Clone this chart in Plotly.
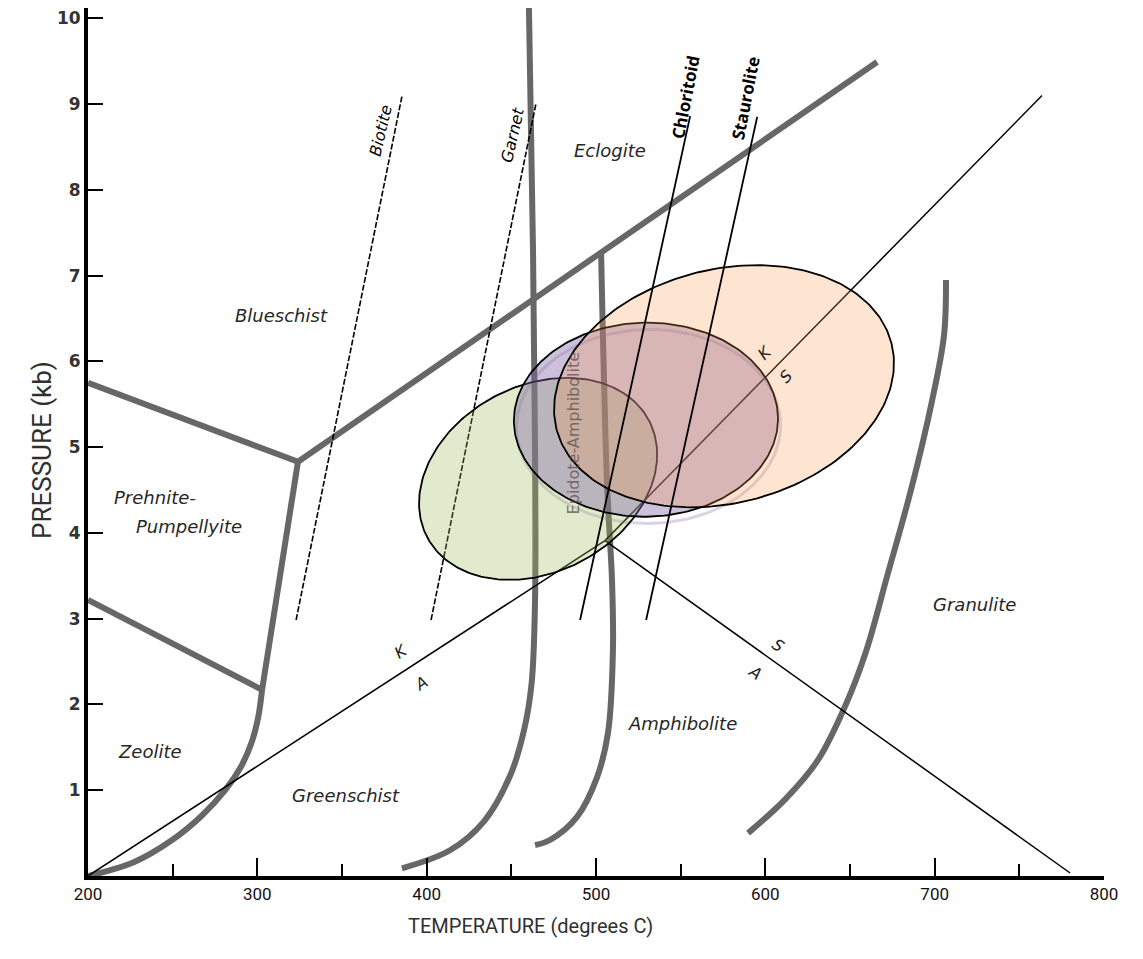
import numpy as np
import plotly.graph_objects as go

# ---------------------------------------------------------------
# Metamorphic facies diagram: temperature (degrees C) vs pressure (kb)
# ---------------------------------------------------------------

# Facies boundaries (thick grey lines): temperature / pressure pairs
eclogite_T = [324.0, 666.0]
eclogite_P = [4.83, 9.49]

blueschist_prehnite_T = [200.0, 324.0]
blueschist_prehnite_P = [5.75, 4.83]

prehnite_greenschist_T = [324.0, 302.8, 300.5, 296.5, 290.5, 281.0, 267.0, 249.0, 227.0, 200.0]
prehnite_greenschist_P = [4.83, 2.17, 1.85, 1.55, 1.28, 1.00, 0.70, 0.41, 0.16, 0.0]

zeolite_prehnite_T = [200.0, 302.8]
zeolite_prehnite_P = [3.22, 2.17]

greenschist_epidote_T = [460.4, 462.8, 464.0, 464.0, 462.0, 457.5, 449.5, 434.0, 413.8, 385.4]
greenschist_epidote_P = [10.12, 7.30, 4.97, 3.22, 2.25, 1.70, 1.18, 0.64, 0.30, 0.09]

epidote_amphibolite_T = [503.0, 506.5, 509.5, 510.0, 507.1, 500.6, 488.8, 472.8, 464.0]
epidote_amphibolite_P = [7.28, 4.58, 3.42, 2.63, 1.67, 1.15, 0.69, 0.42, 0.36]

granulite_T = [706.7, 705.5, 698.0, 686.0, 672.0, 659.5, 648.0, 631.0, 612.0, 589.8]
granulite_P = [6.95, 6.30, 5.50, 4.50, 3.50, 2.62, 2.02, 1.35, 0.90, 0.50]

# Al2SiO5 polymorph reactions (kyanite / andalusite / sillimanite)
triple_T, triple_P = 505.3, 3.91
ka_T = [200.0, triple_T]
ka_P = [0.0, triple_P]
ks_T = [triple_T, 763.4]
ks_P = [triple_P, 9.10]
as_T = [triple_T, 780.0]
as_P = [triple_P, 0.035]

# Isograds
biotite_T = [322.9, 385.5]
biotite_P = [2.985, 9.10]
garnet_T = [402.6, 464.6]
garnet_P = [2.985, 9.01]
chloritoid_T = [490.6, 555.6]
chloritoid_P = [2.985, 8.86]
staurolite_T = [529.6, 595.2]
staurolite_P = [2.985, 8.85]

# P-T fields: centre T, centre P, semi-axes (in degrees C), tilt (deg)
field_names = ["green", "purple", "orange"]
field_Tc = [465.8, 529.5, 575.6]
field_Pc = [4.63, 5.32, 5.71]
field_a = [74.0, 78.0, 102.1]
field_b = [55.0, 57.3, 69.0]
field_tilt = [27.8, 1.0, 14.4]
field_fill = ["rgba(155,187,89,0.30)", "rgba(128,100,162,0.40)", "rgba(247,150,70,0.25)"]

# Facies names: label, T, P
facies_labels = ["Blueschist", "Eclogite", "Prehnite-", "Pumpellyite", "Zeolite",
                 "Greenschist", "Amphibolite", "Granulite"]
facies_T = [314.0, 508.3, 239.6, 259.6, 236.6, 352.4, 550.8, 723.8]
facies_P = [6.54, 8.46, 4.41, 4.07, 1.45, 0.94, 1.78, 3.16]

# ---------------------------------------------------------------
W, H = 1143, 959
M_L, M_R, M_T, M_B = 88, 39, 8, 83
X_RANGE = [200, 800]
Y_RANGE = [0, 10.12]
px_per_T = (W - M_L - M_R) / (X_RANGE[1] - X_RANGE[0])
px_per_P = (H - M_T - M_B) / (Y_RANGE[1] - Y_RANGE[0])
P_per_T = px_per_T / px_per_P  # converts screen-equal lengths from T units to P units


def ellipse(tc, pc, a, b, tilt, shift=(0.0, 0.0), n=240):
    t = np.linspace(0, 2 * np.pi, n)
    th = np.radians(tilt)
    u, v = a * np.cos(t), b * np.sin(t)
    x = u * np.cos(th) - v * np.sin(th)
    y = u * np.sin(th) + v * np.cos(th)
    return tc + x + shift[0], pc + (y + shift[1]) * P_per_T


fig = go.Figure()

GREY = "#676767"


def thick(T, P, smooth=True):
    line = dict(color=GREY, width=6)
    if smooth:
        line.update(shape="spline", smoothing=1.0)
    fig.add_trace(go.Scatter(x=T, y=P, mode="lines", line=line,
                             hoverinfo="skip", showlegend=False))


def thin(T, P, dash="solid", width=1.6):
    fig.add_trace(go.Scatter(x=T, y=P, mode="lines",
                             line=dict(color="black", width=width, dash=dash),
                             hoverinfo="skip", showlegend=False))


thick(eclogite_T, eclogite_P, smooth=False)
thick(blueschist_prehnite_T, blueschist_prehnite_P, smooth=False)
thick(prehnite_greenschist_T[:2], prehnite_greenschist_P[:2], smooth=False)
thick(prehnite_greenschist_T[1:], prehnite_greenschist_P[1:])
thick(zeolite_prehnite_T, zeolite_prehnite_P, smooth=False)
thick(greenschist_epidote_T, greenschist_epidote_P)
thick(epidote_amphibolite_T, epidote_amphibolite_P)
thick(granulite_T, granulite_P)

thin(ka_T, ka_P, width=1.5)
thin(ks_T, ks_P, width=1.5)
thin(as_T, as_P, width=1.5)
thin(biotite_T, biotite_P, dash="6px,2px", width=1.6)
thin(garnet_T, garnet_P, dash="6px,2px", width=1.6)

# Faint shadow under the purple field
sx, sy = ellipse(field_Tc[1], field_Pc[1], field_a[1], field_b[1], field_tilt[1], shift=(1.5, -4.0))
fig.add_trace(go.Scatter(x=sx, y=sy, mode="lines",
                         line=dict(color="rgba(128,100,162,0.28)", width=3),
                         hoverinfo="skip", showlegend=False))

for i, name in enumerate(field_names):
    ex, ey = ellipse(field_Tc[i], field_Pc[i], field_a[i], field_b[i], field_tilt[i])
    fig.add_trace(go.Scatter(x=ex, y=ey, mode="lines", fill="toself",
                             fillcolor=field_fill[i],
                             line=dict(color="black", width=1.8),
                             name=name, hoverinfo="skip", showlegend=False))

thin(chloritoid_T, chloritoid_P, width=1.8)
thin(staurolite_T, staurolite_P, width=1.8)

ann = []
for lab, t, p in zip(facies_labels, facies_T, facies_P):
    ann.append(dict(x=t, y=p, xref="x", yref="y", text="<i>" + lab + "</i>",
                    showarrow=False, font=dict(family="DejaVu Sans", size=18, color="#262626")))

ann.append(dict(x=486.4, y=5.16, xref="x", yref="y", text="Epidote-Amphibolite",
                textangle=-90, showarrow=False,
                font=dict(family="DejaVu Sans", size=16, color="rgba(80,70,70,0.7)")))

# isograd names
for lab, t, p, ang, bold in [("Biotite", 373.0, 8.69, -77, False),
                             ("Garnet", 451.0, 8.64, -77, False),
                             ("Chloritoid", 552.6, 9.08, -79, True),
                             ("Staurolite", 588.0, 9.07, -79, True)]:
    txt = "<b>" + lab + "</b>" if bold else "<i>" + lab + "</i>"
    ann.append(dict(x=t, y=p, xref="x", yref="y", text=txt, textangle=ang, showarrow=False,
                    font=dict(family="Open Sans" if bold else "DejaVu Sans",
                              size=17 if bold else 16, color="black")))

# Al2SiO5 field letters
for lab, t, p, ang in [("K", 384.8, 2.62, -33), ("A", 396.7, 2.25, -33),
                       ("K", 599.8, 6.10, -45), ("S", 612.2, 5.82, -45),
                       ("S", 607.5, 2.69, 35), ("A", 593.9, 2.37, 35)]:
    ann.append(dict(x=t, y=p, xref="x", yref="y", text="<i>" + lab + "</i>", textangle=ang,
                    showarrow=False, font=dict(family="DejaVu Sans", size=16, color="#222")))

# axis titles
ann.append(dict(x=(530 - M_L) / (W - M_L - M_R), y=0, xref="paper", yref="paper",
                yshift=-64, text="TEMPERATURE (degrees C)", showarrow=False,
                font=dict(family="Roboto", size=20, color="#303030")))
ann.append(dict(x=0, y=(876 - 450) / px_per_P, xref="paper", yref="y", xshift=-63,
                text="PRESSURE (kb)", textangle=-90, showarrow=False,
                font=dict(family="Roboto", size=26, color="#303030")))

fig.update_layout(
    width=W, height=H,
    margin=dict(l=M_L, r=M_R, t=M_T, b=M_B),
    paper_bgcolor="white", plot_bgcolor="white",
    annotations=ann,
    xaxis=dict(range=X_RANGE, tick0=200, dtick=100, ticks="inside", ticklen=18, tickwidth=2,
               tickcolor="black", showgrid=False, zeroline=False, showline=True,
               linewidth=4, linecolor="black",
               tickfont=dict(family="Roboto", size=17, color="#111"),
               minor=dict(dtick=50, ticks="inside", ticklen=12, tickwidth=2, tickcolor="black")),
    yaxis=dict(range=Y_RANGE, tickvals=list(range(1, 11)), ticks="inside", ticklen=15,
               tickwidth=2, tickcolor="black", showgrid=False, zeroline=False, showline=True,
               linewidth=4, linecolor="black",
               tickfont=dict(family="DejaVu Sans", size=17, color="#333", weight="bold")),
)

fig.write_html("out.html")
